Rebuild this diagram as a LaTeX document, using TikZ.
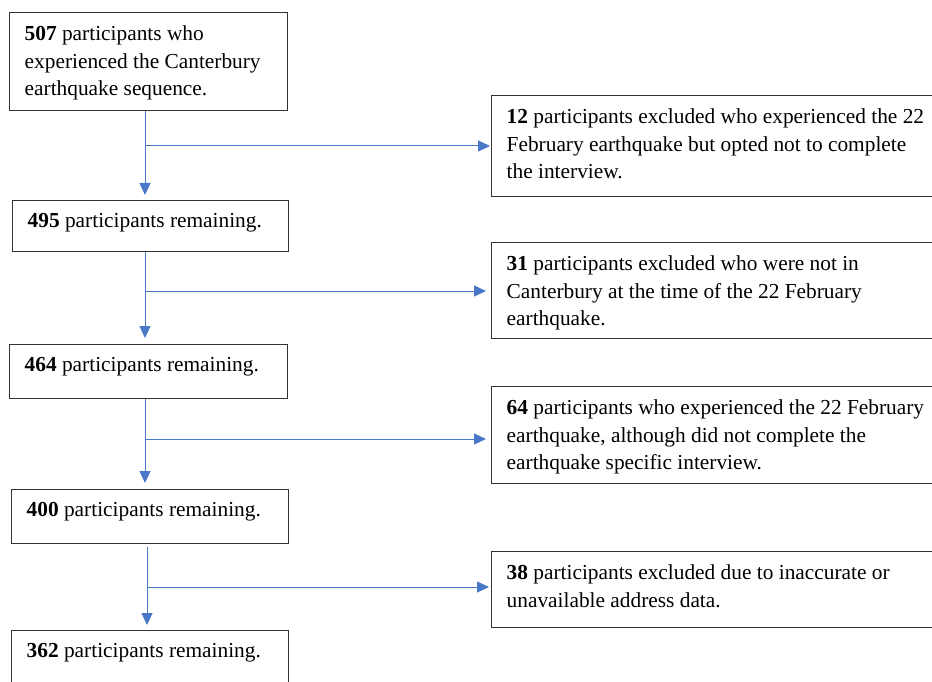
\documentclass[tikz,border=0pt]{standalone}
\usepackage{fontspec}
\setmainfont{Liberation Serif}
\usetikzlibrary{arrows.meta,calc}
\newcommand{\flowtext}[3]{\parbox[c][#2][t]{#1}{\raggedright\leftskip=15pt\fontsize{21.35}{27.5}\selectfont\vspace*{13pt}#3}}
\definecolor{arrowblue}{HTML}{4A78C8}
\tikzset{
  flowbox/.style={draw=black!80, line width=1.4pt, inner sep=0pt, anchor=north west},
  flowarrow/.style={draw=arrowblue, line width=1pt, -{Triangle[length=12pt,width=11pt]}},
}
\begin{document}
\begin{tikzpicture}[x=1pt,y=-1pt]
\useasboundingbox (0,0) rectangle (932,682);
\clip (0,0) rectangle (932,682);
\node[flowbox] (b1) at (9,12) {\flowtext{278pt}{98pt}{\textbf{507} participants who\\experienced the Canterbury\\earthquake sequence.}};
\node[flowbox] (b2) at (12,200) {\flowtext{276pt}{51pt}{\textbf{495} participants remaining.}};
\node[flowbox] (b3) at (9,344) {\flowtext{278pt}{54pt}{\textbf{464} participants remaining.}};
\node[flowbox] (b4) at (11,489) {\flowtext{277pt}{54pt}{\textbf{400} participants remaining.}};
\node[flowbox] (b5) at (11,630) {\flowtext{277pt}{80pt}{\textbf{362} participants remaining.}};
\node[flowbox] (r1) at (491,95) {\flowtext{460pt}{101pt}{\textbf{12} participants excluded who experienced the 22\\February earthquake but opted not to complete\\the interview.}};
\node[flowbox] (r2) at (491,242) {\flowtext{460pt}{96pt}{\textbf{31} participants excluded who were not in\\Canterbury at the time of the 22 February\\earthquake.}};
\node[flowbox] (r3) at (491,386) {\flowtext{460pt}{97pt}{\textbf{64} participants who experienced the 22 February\\earthquake, although did not complete the\\earthquake specific interview.}};
\node[flowbox] (r4) at (491,551) {\flowtext{460pt}{76pt}{\textbf{38} participants excluded due to inaccurate or\\unavailable address data.}};
\coordinate (j1) at (145,146);
\coordinate (j2) at (145,291);
\coordinate (j3) at (145,439);
\coordinate (j4) at (147,587);
\draw[flowarrow, shorten >=5pt] (b1.south -| j1) -- (b2.north -| j1);
\draw[flowarrow, shorten >=1pt] (j1) -- (r1.west |- j1);
\draw[flowarrow, shorten >=6pt] (b2.south -| j2) -- (b3.north -| j2);
\draw[flowarrow, shorten >=5pt] (j2) -- (r2.west |- j2);
\draw[flowarrow, shorten >=6pt] (b3.south -| j3) -- (b4.north -| j3);
\draw[flowarrow, shorten >=5pt] (j3) -- (r3.west |- j3);
\draw[flowarrow, shorten >=5pt, shorten <=3pt] (b4.south -| j4) -- (b5.north -| j4);
\draw[flowarrow, shorten >=2pt] (j4) -- (r4.west |- j4);
\end{tikzpicture}
\end{document}
